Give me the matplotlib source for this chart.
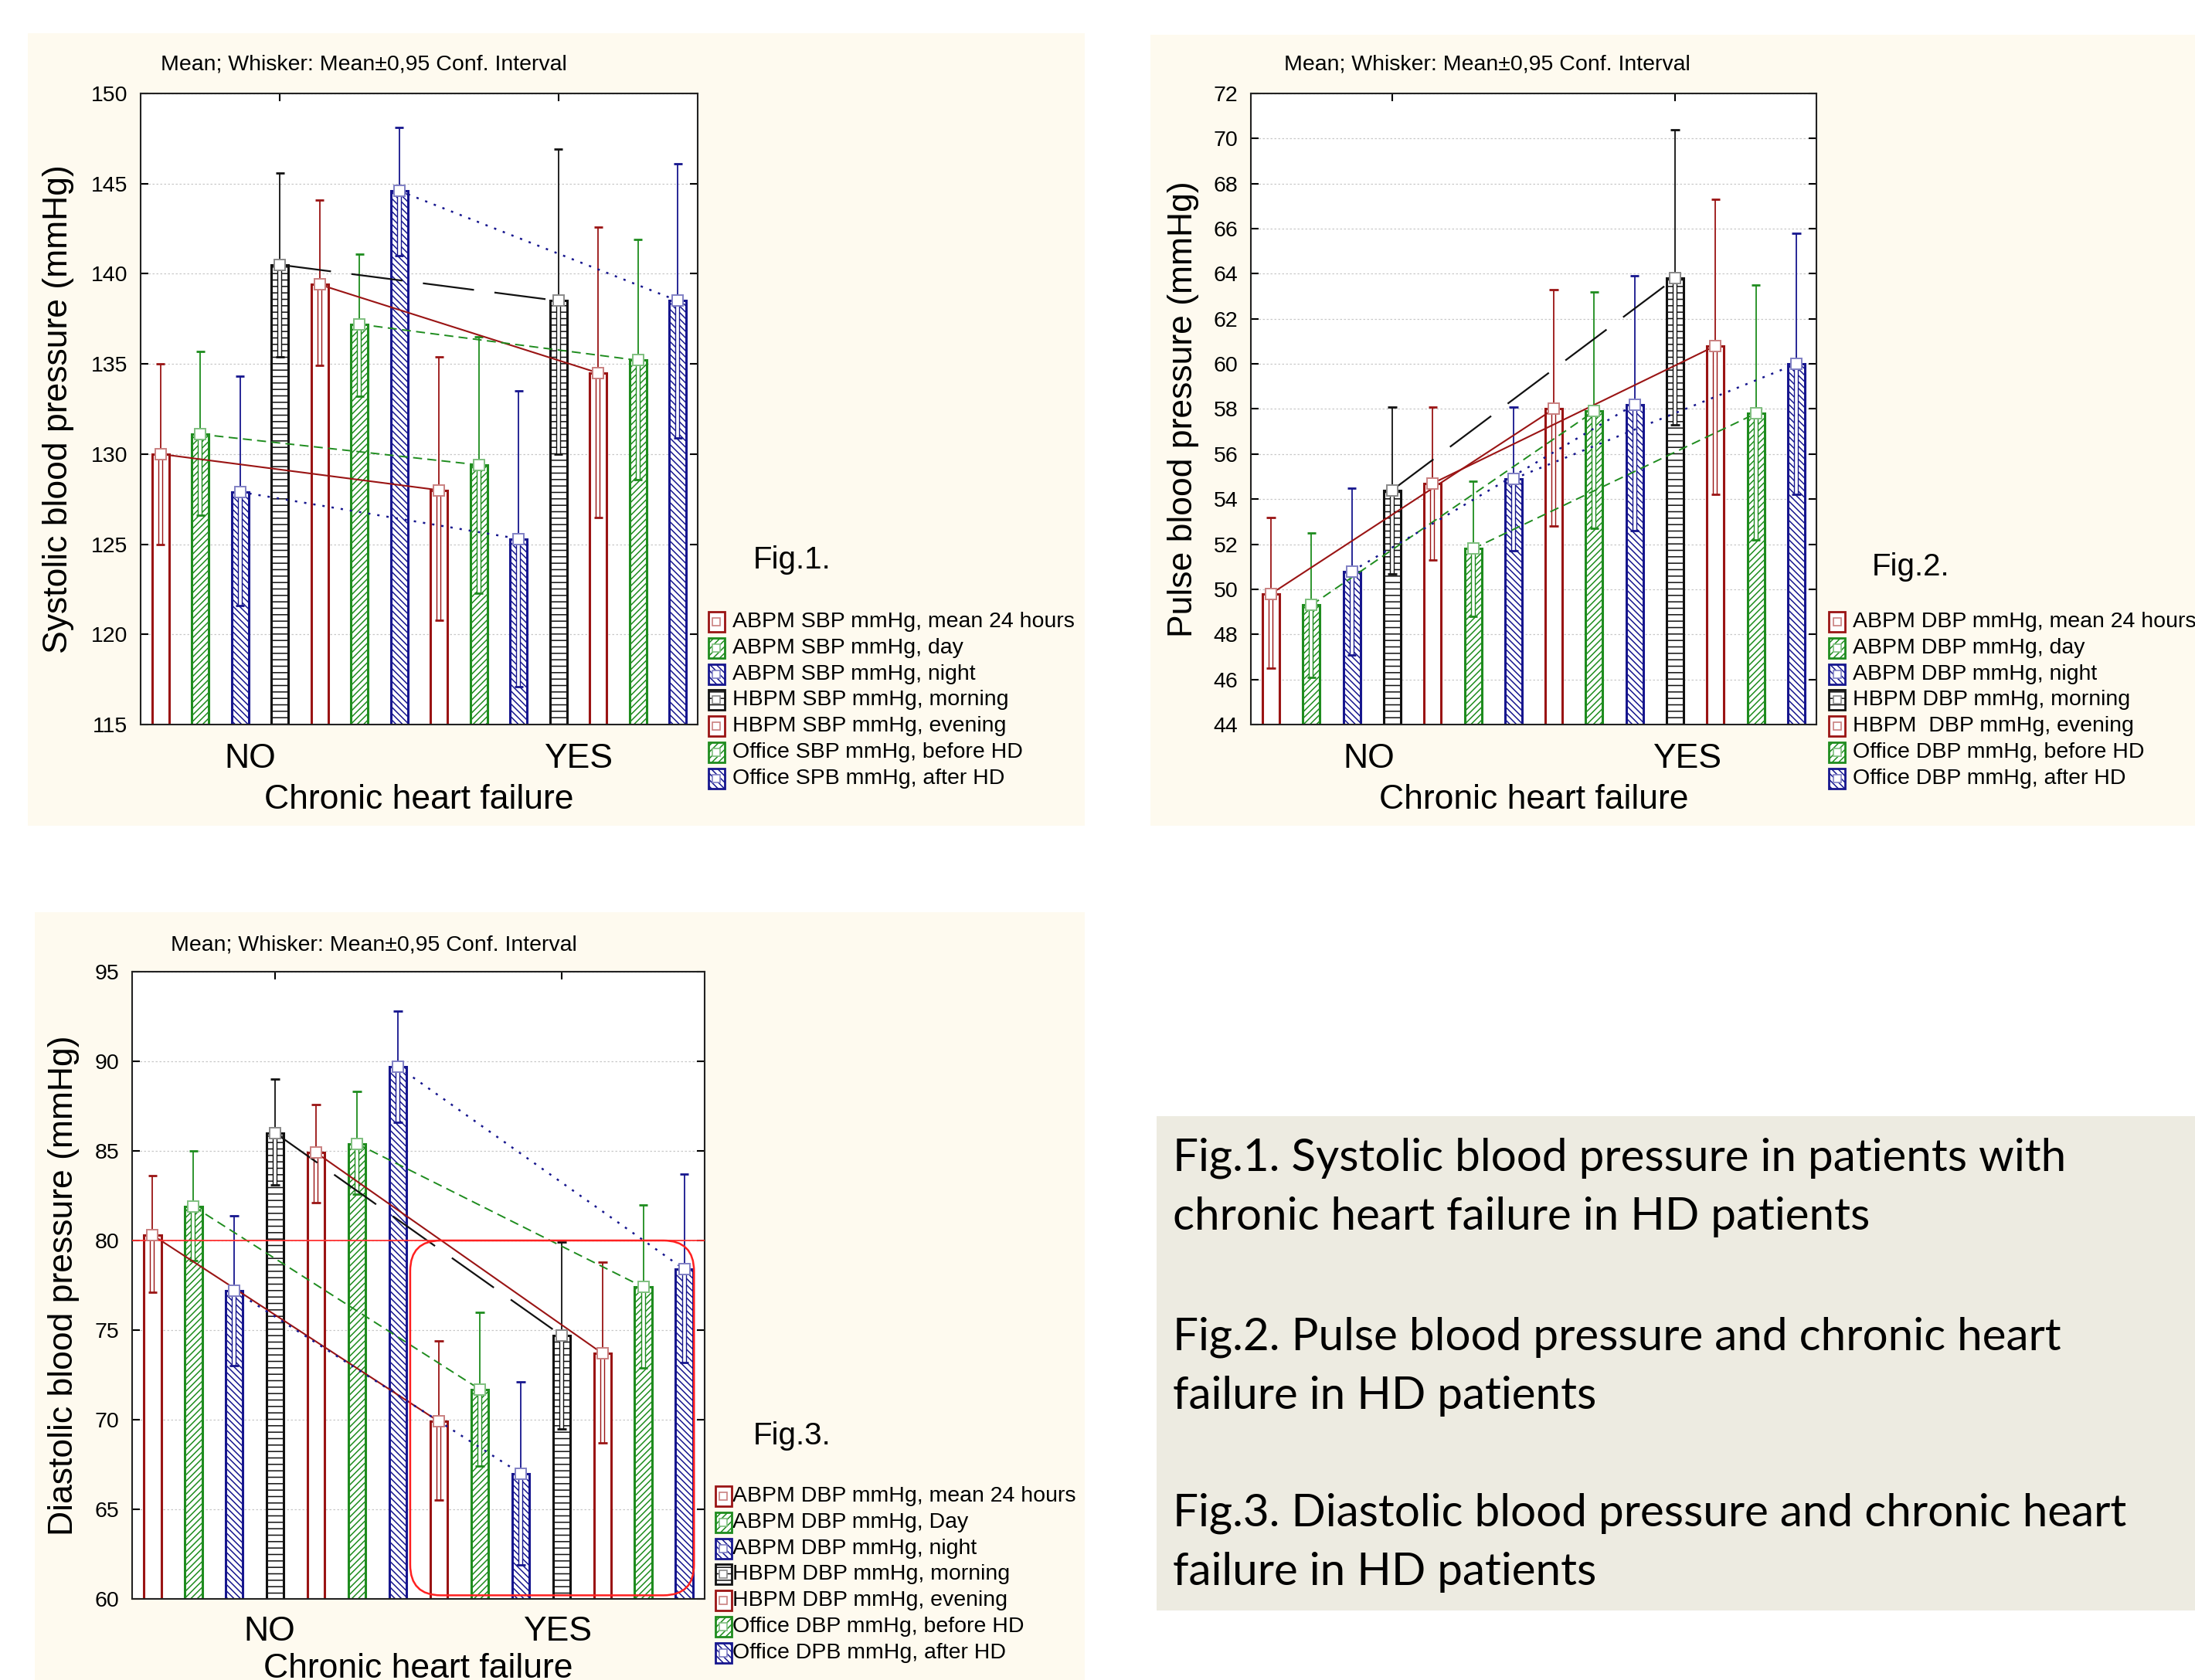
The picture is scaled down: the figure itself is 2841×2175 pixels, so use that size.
import matplotlib
matplotlib.use('Agg')
import matplotlib.pyplot as plt
from matplotlib.patches import Rectangle, FancyBboxPatch
from matplotlib.lines import Line2D
import matplotlib.patheffects as pe
import matplotlib.transforms as mtransforms
import numpy as np

W, H, DPI = 2841, 2175, 100

# ---------------- data ----------------
groups = ['NO', 'YES']
x_title = 'Chronic heart failure'
header = 'Mean; Whisker: Mean\u00b10,95 Conf. Interval'

sbp_labels = ['ABPM SBP mmHg, mean 24 hours', 'ABPM SBP mmHg, day', 'ABPM SBP mmHg, night',
              'HBPM SBP mmHg, morning', 'HBPM SBP mmHg, evening', 'Office SBP mmHg, before HD',
              'Office SPB mmHg, after HD']
sbp_no_mean = [130.0, 131.1, 127.9, 140.5, 139.4, 137.2, 144.6]
sbp_no_lo = [125.0, 126.6, 121.6, 135.4, 134.9, 133.2, 141.0]
sbp_no_hi = [135.0, 135.7, 134.3, 145.6, 144.1, 141.1, 148.1]
sbp_yes_mean = [128.0, 129.4, 125.3, 138.5, 134.5, 135.2, 138.5]
sbp_yes_lo = [120.8, 122.3, 117.1, 130.0, 126.5, 128.6, 130.9]
sbp_yes_hi = [135.4, 136.5, 133.5, 146.9, 142.6, 141.9, 146.1]

pp_labels = ['ABPM DBP mmHg, mean 24 hours', 'ABPM DBP mmHg, day', 'ABPM DBP mmHg, night',
             'HBPM DBP mmHg, morning', 'HBPM  DBP mmHg, evening', 'Office DBP mmHg, before HD',
             'Office DBP mmHg, after HD']
pp_no_mean = [49.8, 49.3, 50.8, 54.4, 54.7, 51.8, 54.9]
pp_no_lo = [46.5, 46.1, 47.1, 50.7, 51.3, 48.8, 51.7]
pp_no_hi = [53.2, 52.5, 54.5, 58.1, 58.1, 54.8, 58.1]
pp_yes_mean = [58.0, 57.9, 58.2, 63.8, 60.8, 57.8, 60.0]
pp_yes_lo = [52.8, 52.7, 52.6, 57.3, 54.2, 52.2, 54.2]
pp_yes_hi = [63.3, 63.2, 63.9, 70.4, 67.3, 63.5, 65.8]

dbp_labels = ['ABPM DBP mmHg, mean 24 hours', 'ABPM DBP mmHg, Day', 'ABPM DBP mmHg, night',
              'HBPM DBP mmHg, morning', 'HBPM DBP mmHg, evening', 'Office DBP mmHg, before HD',
              'Office DPB mmHg, after HD']
dbp_no_mean = [80.3, 81.9, 77.2, 86.0, 84.9, 85.4, 89.7]
dbp_no_lo = [77.1, 78.9, 73.0, 83.1, 82.1, 82.6, 86.6]
dbp_no_hi = [83.6, 85.0, 81.4, 89.0, 87.6, 88.3, 92.8]
dbp_yes_mean = [69.9, 71.7, 67.0, 74.7, 73.7, 77.4, 78.4]
dbp_yes_lo = [65.5, 67.4, 61.9, 69.5, 68.7, 72.9, 73.2]
dbp_yes_hi = [74.4, 76.0, 72.1, 79.9, 78.8, 82.0, 83.7]
dbp_ref_level = 80
dbp_highlight = [6.3, 60.2, 13.24, 80.0]   # x0, y0, x1, y1 (data units)

caption_lines = ['Fig.1. Systolic blood pressure in patients with',
                 'chronic heart failure in HD patients',
                 'Fig.2. Pulse blood pressure and chronic heart',
                 'failure in HD patients',
                 'Fig.3. Diastolic blood pressure and chronic heart',
                 'failure in HD patients']

# ---------------- styles ----------------
RED, GREEN, BLUE, BLACK = '#9a1414', '#1e8c1e', '#16168e', '#111111'
LIGHT = {RED: '#c98080', GREEN: '#7fbf7f', BLUE: '#8080c4', BLACK: '#8a8a8a'}
colors = [RED, GREEN, BLUE, BLACK, RED, GREEN, BLUE]
hatches = ['', '////', '\\\\\\\\', '--', '', '////', '\\\\\\\\']
lstyles = ['-', (0, (6, 3.5)), (0, (1.2, 3.6)), (0, (30, 12)), '-', (0, (6, 3.5)), (0, (1.2, 3.6))]
lwidths = [1.5, 1.4, 1.8, 1.6, 1.5, 1.4, 1.8]
BG = '#fefaef'
FONT = 'Liberation Sans'

plt.rcParams['font.family'] = [FONT, 'DejaVu Sans']
plt.rcParams['hatch.linewidth'] = 1.1

fig = plt.figure(figsize=(W / DPI, H / DPI), dpi=DPI)
fig.patch.set_facecolor('white')


def fx(x):
    return x / W


def fy(y):
    return 1 - y / H


def bg_rect(x0, y0, x1, y1, color):
    fig.add_artist(Rectangle((fx(x0), fy(y1)), (x1 - x0) / W, (y1 - y0) / H,
                             transform=fig.transFigure, facecolor=color,
                             edgecolor='none', zorder=-10))


bg_rect(36, 43, 1404, 1069, BG)
bg_rect(1489, 45, 2841, 1069, BG)
bg_rect(45, 1181, 1404, 2175, BG)
bg_rect(1497, 1445, 2841, 2085, '#edebe1')


def panel(box, ymin, ymax, ystep, ylabel, ylabel_x, labels, nm, nlo, nhi, ym, ylo, yhi,
          header_xy, legend_sq_x, legend_txt_x, legend_y0, fig_label, fig_label_xy,
          group_label_y, xlabel_y, group_label_x):
    l, t, r, b = box
    ax = fig.add_axes([fx(l), fy(b), (r - l) / W, (b - t) / H])
    ax.set_facecolor('white')
    ax.set_xlim(-0.5, 13.5)
    ax.set_ylim(ymin, ymax)
    ax.set_yticks(np.arange(ymin, ymax + 0.01, ystep))
    ax.set_yticklabels([f'{v:g}' for v in np.arange(ymin, ymax + 0.01, ystep)])
    ax.tick_params(axis='y', direction='in', left=True, right=True, length=7, width=1.5,
                   labelsize=20.5, pad=12)
    ax.set_xticks([3, 10])
    ax.set_xticklabels(['', ''])
    ax.tick_params(axis='x', direction='in', top=True, bottom=True, length=7, width=1.5)
    for s in ax.spines.values():
        s.set_linewidth(1.5)
        s.set_color('#222222')
    ax.yaxis.grid(True, color='#c8c8c8', ls=(0, (2, 2)), lw=0.9)
    ax.set_axisbelow(True)

    all_sets = [(nm, nlo, nhi), (ym, ylo, yhi)]
    for g, (m, lo, hi) in enumerate(all_sets):
        for i in range(7):
            x = g * 7 + i
            c = colors[i]
            ax.bar(x, m[i] - ymin, bottom=ymin, width=0.42, facecolor='white', edgecolor=c,
                   hatch=hatches[i], linewidth=2.2, zorder=2)
            # whisker: hollow part inside the bar, thin part above
            ax.plot([x, x], [lo[i], m[i]], color='white', lw=2.6, zorder=3,
                    solid_capstyle='butt',
                    path_effects=[pe.Stroke(linewidth=4.6, foreground=c), pe.Normal()])
            ax.plot([x, x], [m[i], hi[i]], color=c, lw=1.3, zorder=3, solid_capstyle='butt')
            for yv in (lo[i], hi[i]):
                ax.plot([x - 0.11, x + 0.11], [yv, yv], color=c, lw=2.0, zorder=3,
                        solid_capstyle='butt')
    # connecting lines NO -> YES for each series
    for i in range(7):
        ax.plot([i, i + 7], [nm[i], ym[i]], color=colors[i], ls=lstyles[i], lw=lwidths[i],
                zorder=4)
    for g, (m, lo, hi) in enumerate(all_sets):
        for i in range(7):
            ax.plot(g * 7 + i, m[i], 's', mfc='white', mec=LIGHT[colors[i]], ms=10, mew=1.4,
                    zorder=5)

    # group labels and titles
    trans = mtransforms.blended_transform_factory(ax.transData, fig.transFigure)
    for gx, gl in zip(group_label_x, groups):
        ax.text(gx, fy(group_label_y), gl, transform=trans, ha='center', va='center',
                fontsize=32)
    fig.text(fx((l + r) / 2), fy(xlabel_y), x_title, ha='center', va='center', fontsize=32)
    fig.text(fx(ylabel_x), fy((t + b) / 2), ylabel, rotation=90, ha='center', va='center',
             fontsize=32)
    fig.text(fx(header_xy[0]), fy(header_xy[1]), header, ha='left', va='center', fontsize=20.5)
    fig.text(fx(fig_label_xy[0]), fy(fig_label_xy[1]), fig_label, ha='left', va='center',
             fontsize=29)

    # legend
    for i, lab in enumerate(labels):
        cy = legend_y0 + i * 33.8
        c = colors[i]
        fig.add_artist(Rectangle((fx(legend_sq_x), fy(cy + 13)), 21 / W, 26 / H,
                                 transform=fig.transFigure, facecolor='white', edgecolor=c,
                                 hatch=hatches[i], linewidth=2.0, zorder=5))
        fig.add_artist(Line2D([fx(legend_sq_x + 10.5)], [fy(cy)], marker='s', mfc='white',
                              mec=LIGHT[c], ms=7.5, mew=1.2, transform=fig.transFigure,
                              zorder=6))
        fig.text(fx(legend_txt_x), fy(cy), lab, ha='left', va='center', fontsize=20.5)
    return ax


panel((182, 121, 903, 938), 115, 150, 5, 'Systolic blood pressure (mmHg)', 76, sbp_labels,
      sbp_no_mean, sbp_no_lo, sbp_no_hi, sbp_yes_mean, sbp_yes_lo, sbp_yes_hi,
      (208, 84), 917, 948, 805, 'Fig.1.', (975, 725), 982, 1035, (2.26, 10.5))

panel((1619, 121, 2351, 938), 44, 72, 2, 'Pulse blood pressure (mmHg)', 1531, pp_labels,
      pp_no_mean, pp_no_lo, pp_no_hi, pp_yes_mean, pp_yes_lo, pp_yes_hi,
      (1662, 84), 2367, 2398, 805, 'Fig.2.', (2423, 734), 982, 1035, (2.43, 10.3))

ax3 = panel((171, 1258, 912, 2070), 60, 95, 5, 'Diastolic blood pressure (mmHg)', 83, dbp_labels,
            dbp_no_mean, dbp_no_lo, dbp_no_hi, dbp_yes_mean, dbp_yes_lo, dbp_yes_hi,
            (221, 1223), 926, 948, 1937, 'Fig.3.', (975, 1859), 2112, 2160, (2.85, 9.9))

ax3.axhline(dbp_ref_level, color='#ff3030', lw=1.3, zorder=4.5)
x0, y0, x1, y1 = dbp_highlight
ax3.add_patch(FancyBboxPatch((x0, y0), x1 - x0, y1 - y0,
                             boxstyle='round,pad=0,rounding_size=0.75', mutation_aspect=2.28,
                             facecolor='none', edgecolor='#ff2020', lw=1.8, zorder=4.6))

# caption box text
cap_baselines = [1516, 1592, 1748, 1824, 1976, 2052]
for txt, yb in zip(caption_lines, cap_baselines):
    fig.text(fx(1518), fy(yb), txt, ha='left', va='baseline', fontsize=42,
             family=['Lato', 'DejaVu Sans'])

fig.savefig('out.png', dpi=DPI, facecolor='white')
